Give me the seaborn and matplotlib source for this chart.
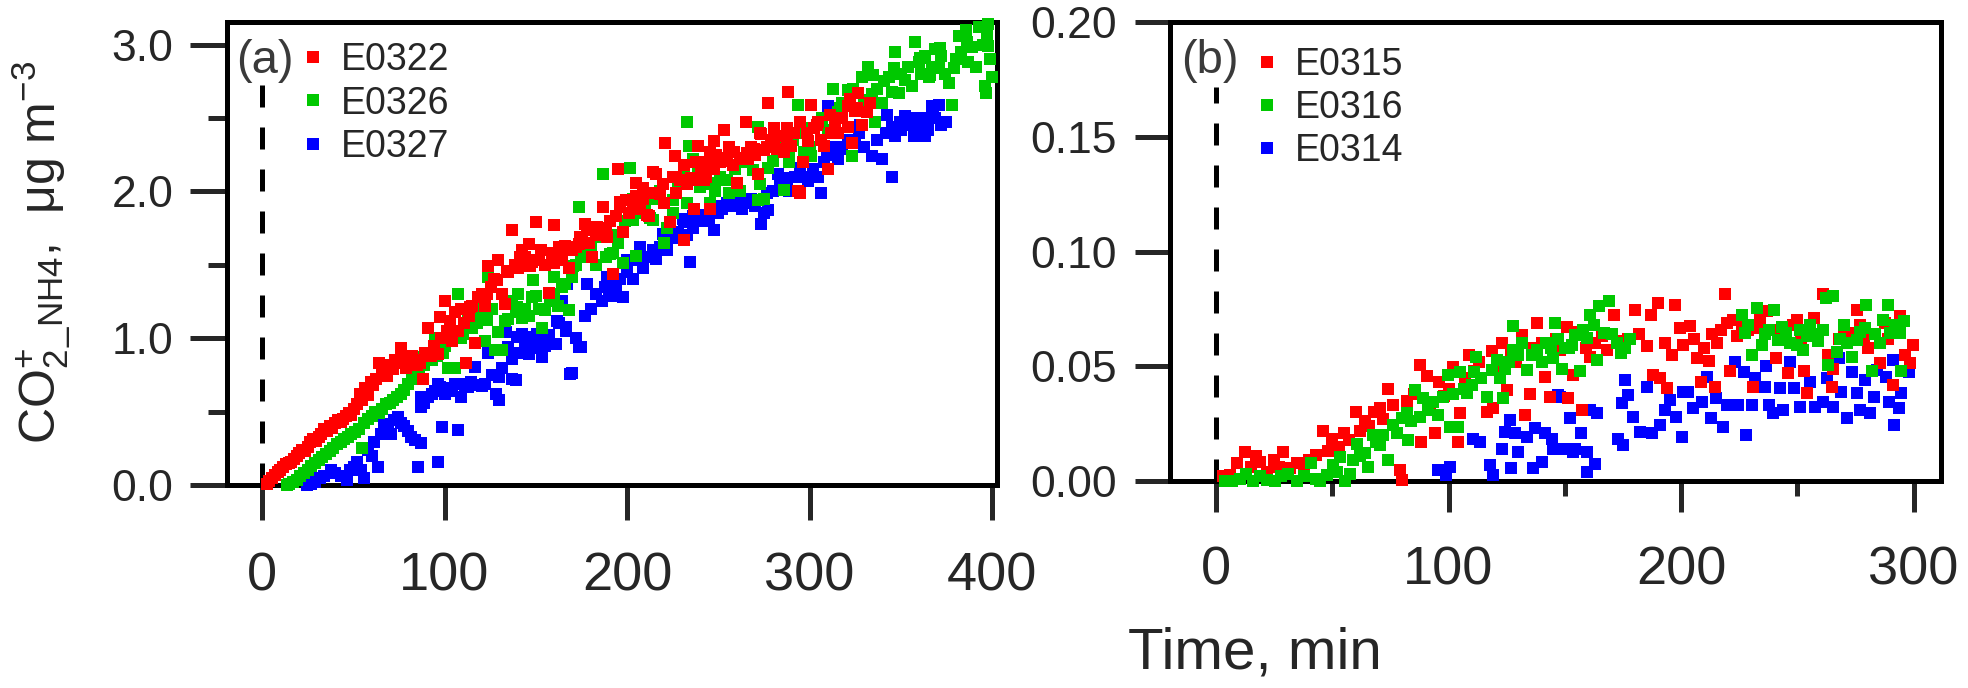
import matplotlib
matplotlib.use("Agg")
import matplotlib.pyplot as plt
import seaborn as sns
import pandas as pd

# ---------------- data: panel (a) ----------------
e0322_time = [2.6, 4, 5.5, 7, 8.5, 10, 11.5, 13, 14.5, 16, 17.5, 19, 20.5, 22, 23.5, 25, 26.5, 28, 29.5, 31,
              32.5, 34, 35.5, 37, 38.5, 40, 41.5, 43, 44.5, 46, 47.5, 49, 50.5, 52, 53.5, 55, 56.5, 58, 59.5, 61,
              62.5, 64, 65.5, 67, 68.5, 70, 71.5, 73, 74.5, 76, 77.5, 79, 80.5, 82, 83.5, 85, 86.5, 88, 89.5, 91,
              92.5, 94, 96.5, 98, 100, 101.5, 103, 104, 105.5, 107.5, 109, 110.5, 112, 113.5, 115, 116.5, 118.5,
              120.5, 122, 124, 125.5, 127, 129.5, 131.5, 133, 134.5, 137, 138.5, 140, 142.5, 144, 146, 148, 150,
              151.5, 153, 155, 157.3, 159, 160, 162.8, 164.5, 166, 168, 170, 172, 173.8, 175.5, 177, 179, 181,
              183, 185, 186.7, 188.5, 190.4, 192.2, 194, 195, 197.8, 199.6, 201, 203, 205, 205, 207, 209, 210.7,
              212, 214, 216, 218, 219.5, 221, 223.6, 225, 226, 227, 229, 231, 233, 235, 236.5, 238, 239, 240.3,
              242, 243.5, 245.7, 247.4, 247.5, 249, 251, 253, 254.5, 256, 258, 260, 262, 264, 265, 266, 268, 270,
              271.5, 273, 273.3, 275, 277, 279, 280.6, 282, 284, 286, 288, 289.9, 291.5, 293.5, 295, 296.5, 299,
              300.9, 302.7, 304.5, 306, 308, 310, 312, 314, 315.6, 318, 321, 321, 323, 325, 326.7, 329, 331.3, 333,
              97.5, 103, 114, 123, 128.6, 134, 141.5, 147, 150.5, 160, 163.3, 170.6, 174.2, 178, 183.3, 188.8, 196,
              205, 214.4, 220, 227, 236, 242, 247, 254.6, 265.5, 276.5, 287.5, 298.5, 196, 209, 231, 245.7, 258.5,
              269.5, 280.5, 287.7, 295, 304, 311.4, 322.4, 326]
e0322_conc = [0.01, 0.03, 0.05, 0.07, 0.09, 0.10, 0.12, 0.14, 0.15, 0.16, 0.18, 0.20, 0.22, 0.24, 0.23, 0.26, 0.29,
              0.31, 0.30, 0.33, 0.35, 0.38, 0.37, 0.40, 0.39, 0.42, 0.44, 0.43, 0.45, 0.47, 0.49, 0.48, 0.52, 0.55,
              0.62, 0.58, 0.66, 0.61, 0.70, 0.68, 0.72, 0.83, 0.76, 0.80, 0.74, 0.82, 0.79, 0.85, 0.83, 0.93, 0.86,
              0.80, 0.84, 0.88, 0.85, 0.82, 0.83, 0.72, 0.90, 1.07, 0.88, 0.95, 0.89, 1.00, 1.25, 1.05, 1.12, 0.98,
              1.18, 1.05, 1.20, 1.10, 0.83, 1.15, 1.22, 0.97, 1.28, 1.30, 1.22, 1.49, 1.35, 1.40, 1.53, 1.30, 1.23,
              1.45, 1.74, 1.50, 1.48, 1.60, 1.55, 1.64, 1.52, 1.79, 1.53, 1.60, 1.50, 1.31, 1.58, 1.77, 1.62, 1.55,
              1.63, 1.48, 1.60, 1.62, 1.64, 1.68, 1.78, 1.65, 1.55, 1.70, 1.75, 1.89, 1.72, 1.80, 1.44, 1.83, 2.15,
              1.72, 1.94, 1.85, 1.90, 1.92, 2.06, 1.88, 1.95, 1.84, 1.83, 2.13, 2.12, 1.98, 2.05, 2.33, 1.79, 2.10,
              2.24, 1.99, 2.08, 1.67, 2.05, 2.09, 1.88, 2.20, 2.31, 2.14, 2.20, 2.10, 1.88, 2.34, 2.15, 2.25, 2.20,
              2.42, 2.23, 2.30, 2.18, 2.06, 2.22, 2.23, 2.47, 2.22, 2.30, 2.25, 2.12, 2.40, 2.39, 2.28, 2.60, 2.35,
              2.43, 2.29, 2.38, 2.27, 2.68, 2.31, 2.40, 2.00, 1.99, 2.20, 2.34, 2.59, 2.43, 2.47, 2.35, 2.31, 2.15,
              2.40, 2.45, 2.40, 2.50, 2.44, 2.58, 2.33, 2.55, 2.67, 2.45, 2.54, 2.60,
              1.146, 1.08, 1.21, 1.30, 1.395, 1.46, 1.556, 1.49, 1.533, 1.51, 1.533, 1.624, 1.692, 1.738, 1.76,
              1.69, 1.896, 1.965, 1.987, 1.92, 2.10, 2.08, 2.08, 2.17, 2.21, 2.26, 2.305, 2.35, 2.395, 1.93, 2.02,
              2.18, 2.27, 2.27, 2.29, 2.34, 2.43, 2.475, 2.45, 2.52, 2.63, 2.57]

e0326_time = [13.6, 15, 17, 19, 21, 23, 25, 27, 29, 31, 33, 35, 37, 39, 41, 43, 45, 47, 49, 51, 53, 55, 56, 58, 60,
              62, 64, 66, 68, 70, 72, 74, 76, 78, 80, 82, 84, 86, 87.5, 89, 91, 93, 94.6, 96, 98, 100, 102, 104,
              105.7, 107.5, 109, 111, 113, 115, 116.8, 118, 120, 122.3, 124, 126, 127.8, 129.5, 131.5, 133.3, 135,
              137, 139, 140.5, 142.5, 144, 146, 148, 150, 152, 153.6, 155, 158, 160, 162, 164.6, 166, 168.3, 170,
              172, 173.8, 175, 177, 180, 183, 186.7, 188.6, 190.4, 192, 195, 197.8, 199, 201.5, 203, 205, 208, 210,
              212.5, 215, 218, 220, 222, 225.4, 228, 231, 233, 234, 236, 239, 242, 245.6, 248, 251, 253, 256, 259,
              262, 265, 268, 271.5, 271.5, 273, 275, 277, 280.6, 283, 286, 289, 291, 293.5, 295, 297, 299, 301,
              301, 304, 307, 310, 313, 315.6, 318, 321, 323, 325, 328.5, 330, 332.2, 334, 335.8, 337, 339.5, 341,
              343.3, 345, 347, 348.8, 350, 352.5, 354, 356, 357.9, 359.8, 361, 363, 365.3, 367, 369, 370.8, 372,
              374, 376.4, 378.2, 380, 381.9, 383, 385.6, 387, 389, 391, 393, 395, 396, 396.5, 397.5, 398, 399, 400,
              99.4, 110.3, 123, 139.5, 148.6, 160, 170.6, 179.7, 187, 192.5, 203.5, 214.4, 225.3, 232.6, 240, 247,
              254.6, 269, 280, 289, 300, 324, 335, 346, 360.5, 371.5, 386, 397, 379, 366, 331, 316.7]
e0326_conc = [0.0, 0.01, 0.02, 0.035, 0.06, 0.08, 0.10, 0.13, 0.15, 0.17, 0.19, 0.21, 0.23, 0.25, 0.28, 0.29, 0.31,
              0.33, 0.35, 0.36, 0.38, 0.25, 0.42, 0.45, 0.47, 0.50, 0.49, 0.52, 0.55, 0.56, 0.58, 0.60, 0.62, 0.65,
              0.69, 0.72, 0.75, 0.80, 0.87, 0.82, 0.90, 0.85, 1.00, 0.88, 0.92, 0.95, 0.80, 1.02, 0.80, 1.30, 1.00,
              1.08, 1.12, 1.07, 1.21, 1.10, 1.15, 0.98, 1.42, 1.20, 0.92, 1.04, 0.92, 1.12, 1.13, 1.25, 1.18, 1.30,
              1.14, 1.20, 1.15, 1.28, 1.29, 1.20, 1.07, 1.19, 1.25, 1.30, 1.22, 1.35, 1.37, 1.19, 1.42, 1.50, 1.89,
              1.55, 1.60, 1.62, 1.50, 2.12, 1.55, 1.57, 1.70, 1.65, 1.51, 1.80, 2.16, 1.95, 1.56, 1.85, 1.90, 1.82,
              1.95, 2.00, 1.65, 1.75, 1.94, 2.05, 2.10, 2.47, 2.31, 2.22, 2.15, 2.05, 1.92, 2.00, 2.10, 2.08, 1.99,
              2.15, 2.00, 2.20, 2.30, 1.94, 2.44, 2.05, 1.95, 2.16, 2.41, 2.30, 2.01, 2.20, 2.35, 2.59, 2.40, 2.27,
              2.30, 2.43, 2.24, 2.45, 2.50, 2.42, 2.70, 2.54, 2.60, 2.69, 2.24, 2.55, 2.78, 2.62, 2.85, 2.66, 2.47,
              2.70, 2.60, 2.75, 2.78, 2.68, 2.95, 2.67, 2.80, 2.76, 2.85, 2.72, 3.02, 2.88, 2.80, 2.92, 2.78, 2.85,
              2.97, 2.84, 2.92, 2.80, 2.74, 2.59, 2.90, 3.06, 2.95, 3.10, 2.88, 2.98, 2.85, 3.12, 3.00, 2.72, 2.67,
              3.14, 2.99, 2.90, 2.78,
              0.897, 1.03, 1.124, 1.215, 1.397, 1.42, 1.49, 1.555, 1.69, 1.58, 1.806, 1.806, 1.85, 1.92, 2.03, 2.056,
              2.08, 2.146, 2.21, 2.236, 2.305, 2.70, 2.793, 2.84, 2.906, 2.975, 3.02, 3.065, 2.84, 2.793, 2.59, 2.567]

e0327_time = [24.7, 27, 29, 32, 34, 37.6, 40, 43, 46.8, 48, 50.5, 52, 54, 56, 57.8, 60, 61.5, 63.4, 65, 67, 69,
              70.7, 72.5, 74.4, 76, 78, 79.9, 81.5, 83.6, 85.4, 87.3, 87.3, 89, 91, 93, 95, 96.5, 96.5, 98.4, 100,
              102, 104, 105.7, 107.5, 109, 111, 113, 114.5, 116.5, 118, 120.4, 122.3, 124, 126, 128, 129.7, 129.7,
              131.5, 133.4, 135, 137, 137, 138.9, 140.5, 142.5, 144, 146, 146, 148, 150, 151.5, 153.6, 155, 157,
              159, 161, 162.5, 164.6, 166.4, 166.5, 169, 170, 172, 173.8, 174.8, 177, 180, 183, 186, 188, 190,
              192.2, 194, 194, 196, 197.8, 200, 203, 205, 207, 209, 212.5, 214, 216, 218, 219.9, 222, 225, 228,
              230.9, 231, 233, 234.6, 236, 239, 242, 245, 247.4, 250, 252, 254.8, 257, 260, 263, 265, 267.7, 270,
              273.3, 275, 277, 280, 282.5, 284, 286, 289, 292, 295, 297, 299, 302, 304.5, 306.3, 308, 310, 312,
              315.6, 318, 321, 324.8, 327, 330, 334, 336.8, 339.5, 342, 345, 345, 347, 348.8, 350, 352.5, 355, 357,
              359.8, 362, 363.5, 365, 367.2, 369, 371, 372, 374.6,
              87, 97.5, 112, 128.6, 139.5, 150.5, 161.5, 167, 178, 188.8, 200, 207, 222, 236, 249, 262, 276.5,
              287.5, 300, 349.6, 358.7, 367.8, 342.5, 327.7, 316.7, 309.5, 294.8]
e0327_conc = [0.0, 0.01, 0.02, 0.045, 0.06, 0.10, 0.08, 0.06, 0.034, 0.10, 0.124, 0.16, 0.10, 0.045, 0.236, 0.20,
              0.29, 0.124, 0.35, 0.418, 0.38, 0.35, 0.44, 0.464, 0.42, 0.40, 0.37, 0.33, 0.305, 0.124, 0.283, 0.532,
              0.56, 0.60, 0.62, 0.64, 0.158, 0.69, 0.396, 0.62, 0.66, 0.64, 0.69, 0.373, 0.60, 0.67, 0.668, 0.70,
              0.803, 0.68, 0.673, 0.69, 0.90, 0.75, 0.62, 0.577, 0.736, 0.80, 1.042, 0.94, 0.72, 0.86, 0.713, 0.90,
              1.03, 0.95, 1.006, 0.894, 0.98, 0.93, 1.00, 0.871, 0.95, 1.02, 0.96, 0.96, 1.10, 1.256, 1.076, 1.05,
              0.758, 0.76, 1.00, 0.939, 0.94, 1.15, 1.20, 1.30, 1.25, 1.35, 1.32, 1.29, 1.36, 1.39, 1.40, 1.28, 1.45,
              1.40, 1.53, 1.56, 1.48, 1.55, 1.60, 1.54, 1.62, 1.71, 1.60, 1.68, 1.72, 1.81, 1.79, 1.70, 1.52, 1.75,
              1.80, 1.84, 1.80, 1.74, 1.85, 1.88, 1.92, 1.90, 1.95, 1.88, 1.92, 1.95, 1.90, 1.78, 1.85, 1.87, 2.00,
              2.12, 2.05, 2.09, 2.00, 2.10, 2.15, 2.10, 2.07, 2.15, 2.10, 1.99, 2.20, 2.58, 2.30, 2.22, 2.30, 2.35,
              2.33, 2.40, 2.30, 2.24, 2.35, 2.22, 2.40, 2.10, 2.44, 2.38, 2.44, 2.42, 2.51, 2.45, 2.38, 2.44, 2.50,
              2.38, 2.42, 2.58, 2.50, 2.59, 2.45, 2.47,
              0.60, 0.67, 0.69, 0.92, 1.01, 1.03, 1.12, 1.37, 1.37, 1.42, 1.53, 1.62, 1.74, 1.83, 1.90, 1.94, 1.99,
              2.056, 2.10, 2.475, 2.50, 2.52, 2.52, 2.45, 2.29, 2.248, 2.157]

# ---------------- data: panel (b) ----------------
e0315_time = [3, 6, 9, 12.5, 15, 17, 19, 22, 25, 27, 29, 32, 35, 38, 40, 43, 46, 48, 50, 53, 55, 57, 60, 62, 64,
              66, 68, 70.5, 72, 74, 76, 79, 80, 82, 85, 87.7, 88, 90.6, 92, 94, 96, 98, 100, 102, 104, 105, 107,
              109, 111, 113, 116.4, 118.6, 119, 121, 122.9, 125, 127, 129, 131.5, 133, 135, 136, 138, 140, 141.5,
              143.6, 146, 148, 150.8, 151.5, 153.7, 155, 157.3, 159, 161, 163, 166, 168, 171, 174, 177, 180, 182,
              185.3, 187, 188, 190, 191, 193, 194, 196, 197.4, 199.6, 201, 204, 205.5, 207, 208.5, 210, 212, 213.5,
              215.3, 214.6, 217, 218.9, 219.6, 221, 222.5, 224, 226, 229, 231, 232.5, 234, 237, 239, 241, 243, 246,
              248, 250, 251.5, 253, 254, 255.5, 257, 259, 261, 263, 264.8, 265.5, 268, 270, 272.7, 275.5, 277,
              278.5, 280.5, 283, 285.6, 287.7, 289, 291, 292.5, 294, 296.3, 298.5, 299.9]
e0315_conc = [0.002, 0.0026, 0.008, 0.0127, 0.006, 0.011, 0.0083, 0.004, 0.009, 0.006, 0.0127, 0.0055, 0.008,
              0.004, 0.009, 0.0112, 0.022, 0.013, 0.0185, 0.015, 0.021, 0.018, 0.030, 0.022, 0.026, 0.024, 0.030,
              0.0316, 0.027, 0.040, 0.033, 0.0046, 0.0003, 0.035, 0.038, 0.0507, 0.017, 0.0456, 0.033, 0.0207,
              0.043, 0.037, 0.040, 0.0498, 0.017, 0.0295, 0.045, 0.055, 0.048, 0.052, 0.0302, 0.0565, 0.032, 0.050,
              0.0601, 0.0396, 0.055, 0.052, 0.0637, 0.0288, 0.038, 0.058, 0.0688, 0.060, 0.0455, 0.0367, 0.062,
              0.057, 0.0673, 0.036, 0.046, 0.065, 0.0309, 0.058, 0.0542, 0.060, 0.063, 0.057, 0.0725, 0.0609, 0.062,
              0.0747, 0.064, 0.0587, 0.0725, 0.046, 0.0776, 0.0447, 0.060, 0.0404, 0.055, 0.0769, 0.0667, 0.0594,
              0.0674, 0.062, 0.0535, 0.0433, 0.058, 0.0524, 0.064, 0.0602, 0.0411, 0.066, 0.0813, 0.0689, 0.0478,
              0.070, 0.063, 0.068, 0.066, 0.0411, 0.0667, 0.070, 0.074, 0.066, 0.0535, 0.064, 0.047, 0.068, 0.0703,
              0.062, 0.0478, 0.0382, 0.066, 0.071, 0.064, 0.0813, 0.055, 0.0411, 0.049, 0.062, 0.066, 0.0645,
              0.0747, 0.068, 0.062, 0.058, 0.064, 0.0513, 0.0689, 0.062, 0.0418, 0.066, 0.0718, 0.055, 0.0513,
              0.0594]

e0316_time = [4, 6.7, 10.3, 13, 16, 19, 21.8, 25.4, 28, 31, 34.7, 38, 41, 43, 44.7, 47.6, 50.5, 52, 53.3, 55.5,
              57.6, 59, 60.5, 62, 64, 65.5, 67.7, 69, 70.5, 72, 74, 76.3, 78, 79.9, 82, 82.7, 84, 85.6, 87.7, 89,
              91, 93.5, 95.6, 97.7, 99.9, 100.6, 102, 104, 105, 106.5, 108, 110, 111, 112, 114, 116.4, 118.6, 121,
              122, 123.6, 124.3, 126, 127.9, 127.9, 130, 131.5, 133.6, 136, 138, 140, 142, 144, 145, 145.8, 147,
              148.7, 150, 152, 153, 154.4, 156.5, 158, 159.4, 161, 162.5, 164, 164.6, 166.8, 169, 170.5, 172.5, 174,
              176, 178, 226, 227.5, 229, 230.4, 232.5, 234.7, 236, 238, 240, 241.7, 243.5, 245, 247, 249.7, 251,
              252.6, 254, 255.5, 257, 259, 261, 262.5, 265.5, 263.3, 267, 268.5, 270, 271.5, 273.5, 275.6, 277, 279,
              279.7, 282, 283.5, 285.6, 287, 289, 290, 292, 294, 294.6, 296]
e0316_conc = [0.0, 0.0, 0.001, 0.003, 0.0, 0.002, 0.0003, 0.0, 0.002, 0.003, 0.0, 0.002, 0.0079, 0.001, 0.0,
              0.0026, 0.007, 0.004, 0.0105, 0.0, 0.0032, 0.009, 0.0163, 0.011, 0.012, 0.0061, 0.020, 0.017, 0.0156,
              0.020, 0.009, 0.0244, 0.021, 0.0273, 0.0295, 0.0178, 0.026, 0.0397, 0.028, 0.036, 0.031, 0.0346,
              0.0287, 0.0367, 0.046, 0.0236, 0.038, 0.0236, 0.0477, 0.040, 0.0382, 0.042, 0.0477, 0.0542, 0.045,
              0.0367, 0.0484, 0.0528, 0.045, 0.036, 0.049, 0.052, 0.0674, 0.057, 0.055, 0.060, 0.0484, 0.055, 0.057,
              0.052, 0.060, 0.058, 0.0535, 0.0689, 0.062, 0.049, 0.058, 0.058, 0.0594, 0.0637, 0.0478, 0.066,
              0.0623, 0.0725, 0.068, 0.0528, 0.0761, 0.0645, 0.0783, 0.064, 0.060, 0.0557, 0.058, 0.062, 0.0725,
              0.0645, 0.068, 0.055, 0.0754, 0.0594, 0.064, 0.066, 0.0747, 0.0616, 0.067, 0.0645, 0.060, 0.0594,
              0.066, 0.0572, 0.063, 0.0681, 0.064, 0.0609, 0.066, 0.0798, 0.0805, 0.0506, 0.0564, 0.062, 0.0681,
              0.060, 0.0542, 0.0616, 0.065, 0.0667, 0.0769, 0.0478, 0.064, 0.0601, 0.070, 0.0769, 0.0645, 0.068,
              0.0645, 0.0478, 0.0696]

e0314_time = [95.6, 99, 100.6, 110.7, 113.5, 118, 119, 122.9, 124.3, 126.5, 127, 128.6, 130, 133.6, 136.5, 137,
              140, 141.5, 144.4, 145, 147.2, 148, 150, 152.3, 153.7, 154.4, 157, 159.4, 159.4, 160.8, 163, 163.7,
              173, 174.5, 175, 175.9, 177, 179.5, 182.4, 185.3, 187.5, 191, 193, 195.3, 198, 200.3, 201, 203, 205,
              208.8, 211, 213, 215, 218, 219.6, 223, 224.6, 226.9, 228, 230.4, 231.9, 236, 236.5, 238, 239.7,
              242.6, 244, 247, 248.4, 251, 255.5, 257.6, 261.2, 262.7, 265.5, 267.8, 269, 271.3, 273.5, 275.6,
              277, 279, 281.4, 283, 284.4, 288, 289.4, 291, 291.6, 293.7, 294.5, 298]
e0314_conc = [0.0046, 0.0026, 0.0061, 0.0185, 0.017, 0.007, 0.0026, 0.0141, 0.0214, 0.0265, 0.0055, 0.0207,
              0.0127, 0.0193, 0.0055, 0.0229, 0.0084, 0.0207, 0.0185, 0.0141, 0.0375, 0.0367, 0.0141, 0.0273,
              0.0127, 0.0141, 0.0207, 0.0127, 0.0039, 0.0309, 0.0075, 0.0295, 0.0185, 0.0338, 0.0156, 0.044,
              0.0375, 0.028, 0.0214, 0.041, 0.0207, 0.0243, 0.0309, 0.0353, 0.028, 0.0193, 0.0389, 0.0389, 0.0316,
              0.0346, 0.0455, 0.0273, 0.036, 0.0236, 0.0331, 0.052, 0.0331, 0.0477, 0.020, 0.0331, 0.0447, 0.0411,
              0.0499, 0.0331, 0.0295, 0.0404, 0.0309, 0.052, 0.0404, 0.0324, 0.0433, 0.0324, 0.0346, 0.0447,
              0.0324, 0.0535, 0.0389, 0.0273, 0.0477, 0.0382, 0.0309, 0.044, 0.0295, 0.0367, 0.0484, 0.0455,
              0.0346, 0.0528, 0.0243, 0.0316, 0.0382, 0.0477]

panel_a_series = [("E0322", e0322_time, e0322_conc), ("E0326", e0326_time, e0326_conc), ("E0327", e0327_time, e0327_conc)]
panel_b_series = [("E0315", e0315_time, e0315_conc), ("E0316", e0316_time, e0316_conc), ("E0314", e0314_time, e0314_conc)]

a_xticks = [0, 100, 200, 300, 400]
a_yticks = [0.0, 1.0, 2.0, 3.0]
a_ytick_labels = ["0.0", "1.0", "2.0", "3.0"]
a_yminor = [0.5, 1.5, 2.5]
b_xticks = [0, 100, 200, 300]
b_xminor = [50, 150, 250]
b_yticks = [0.0, 0.05, 0.10, 0.15, 0.20]
b_ytick_labels = ["0.00", "0.05", "0.10", "0.15", "0.20"]

colors = {"E0322": "#FF0000", "E0326": "#00C800", "E0327": "#0000FF",
          "E0315": "#FF0000", "E0316": "#00C800", "E0314": "#0000FF"}

# ---------------- style ----------------
sns.set_style("ticks")
plt.rcParams["font.family"] = ["Liberation Sans", "DejaVu Sans"]
plt.rcParams["mathtext.fontset"] = "custom"
plt.rcParams["mathtext.rm"] = "Liberation Sans"
plt.rcParams["mathtext.it"] = "Liberation Sans:italic"
plt.rcParams["mathtext.bf"] = "Liberation Sans:bold"
plt.rcParams["axes.linewidth"] = 3.6

W, H = 1968, 688
fig = plt.figure(figsize=(W / 100, H / 100), dpi=100)
fig.patch.set_facecolor("white")

def px_axes(left, right, top, bottom):
    return [left / W, (H - bottom) / H, (right - left) / W, (bottom - top) / H]

ax_a = fig.add_axes(px_axes(227, 997, 22.5, 485))
ax_b = fig.add_axes(px_axes(1170, 1941, 22, 481))

MS = 64

def draw(ax, series, order):
    for name in order:
        t, c = next((s[1], s[2]) for s in series if s[0] == name)
        df = pd.DataFrame({"time": t, "conc": c})
        sns.scatterplot(data=df, x="time", y="conc", ax=ax, marker="s", s=MS, color=colors[name],
                        linewidth=0, label=name, zorder=3, clip_on=False)

draw(ax_a, panel_a_series, ["E0327", "E0326", "E0322"])
draw(ax_b, panel_b_series, ["E0314", "E0315", "E0316"])

for ax in (ax_a, ax_b):
    for sp in ax.spines.values():
        sp.set_linewidth(3.6)
        sp.set_color("black")
    ax.set_xlabel("")
    ax.set_ylabel("")

# panel a axes
ax_a.set_xlim(-19.2, 402.7)
ax_a.set_ylim(0, 3.15)
ax_a.set_xticks(a_xticks)
ax_a.set_xticklabels([str(v) for v in a_xticks])
ax_a.set_yticks(a_yticks)
ax_a.set_yticklabels(a_ytick_labels)
ax_a.set_yticks(a_yminor, minor=True)
ax_a.tick_params(axis="x", which="major", direction="out", length=25.2, width=3.6, pad=23, labelsize=39)
ax_a.tick_params(axis="y", which="major", direction="out", length=26.6, width=3.6, pad=12, labelsize=32)
ax_a.tick_params(axis="y", which="minor", direction="out", length=13.7, width=3.6)
ax_a.axvline(0, ymin=0, ymax=0.864, color="black", lw=3.6, dashes=(4.4, 4.0), zorder=1)

# panel b axes
ax_b.set_xlim(-19.8, 311.8)
ax_b.set_ylim(0, 0.2)
ax_b.set_xticks(b_xticks)
ax_b.set_xticklabels([str(v) for v in b_xticks])
ax_b.set_xticks(b_xminor, minor=True)
ax_b.set_yticks(b_yticks)
ax_b.set_yticklabels(b_ytick_labels)
ax_b.tick_params(axis="x", which="major", direction="out", length=22.3, width=3.6, pad=24, labelsize=39)
ax_b.tick_params(axis="x", which="minor", direction="out", length=10.8, width=3.6)
ax_b.tick_params(axis="y", which="major", direction="out", length=25.2, width=3.6, pad=13, labelsize=32)
ax_b.tick_params(axis="y", which="minor", length=0)
ax_b.axvline(0, ymin=0, ymax=0.858, color="black", lw=3.6, dashes=(4.4, 4.0), zorder=1)

def legend(ax, order, anchor):
    h, l = ax.get_legend_handles_labels()
    d = dict(zip(l, h))
    ax.legend([d[n] for n in order], order, loc="upper left", bbox_to_anchor=anchor, frameon=False,
              fontsize=27, borderpad=0, borderaxespad=0, handlelength=0.6, handletextpad=0.45,
              labelspacing=0.19, scatteryoffsets=[0.5], markerscale=1)

legend(ax_a, ["E0322", "E0326", "E0327"], (0.0974, 0.957))
legend(ax_b, ["E0315", "E0316", "E0314"], (0.1115, 0.946))

ax_a.text(0.0487, 0.890, "(a)", transform=ax_a.transAxes, ha="center", va="baseline",
          fontsize=34, color="#3a3a3a")
ax_b.text(0.0512, 0.889, "(b)", transform=ax_b.transAxes, ha="center", va="baseline",
          fontsize=34, color="#3a3a3a")

fig.text(41 / W, (H - 252) / H, r"CO$_{2}^{+}$$_{\_\mathrm{NH4}}$,  μg m$^{-3}$", rotation=90,
         ha="center", va="center", fontsize=36)
fig.text(1255 / W, (H - 669) / H, "Time, min", ha="center", va="baseline", fontsize=42)

fig.savefig("out.png", dpi=100, facecolor="white")
